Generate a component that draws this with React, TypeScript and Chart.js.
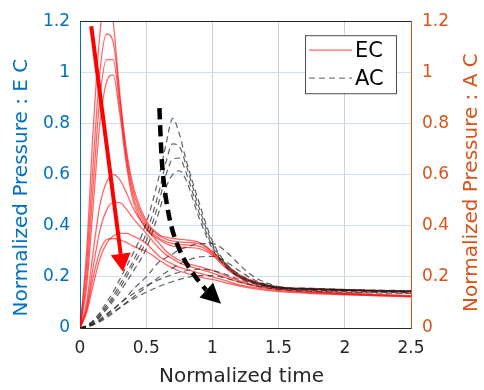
import React, { useEffect, useRef } from 'react';
import { Chart, registerables } from 'chart.js';

Chart.register(...registerables);

// ---- data ----
const T = [0, 0.05, 0.1, 0.15, 0.2, 0.25, 0.3, 0.35, 0.4, 0.5, 0.6, 0.65, 0.7, 0.75, 0.8, 0.9, 1.0, 1.1, 1.2, 1.3, 1.4, 1.5, 1.75, 2.0, 2.25, 2.5];

const EC1 = [0, 0.3, 0.78, 1.15, 1.32, 1.2, 0.92, 0.7, 0.56, 0.42, 0.365, 0.355, 0.35, 0.347, 0.345, 0.335, 0.3, 0.25, 0.21, 0.185, 0.17, 0.16, 0.155, 0.15, 0.146, 0.143];
const EC2 = [0, 0.25, 0.65, 1.0, 1.15, 1.12, 0.9, 0.68, 0.54, 0.41, 0.36, 0.348, 0.34, 0.337, 0.335, 0.33, 0.295, 0.245, 0.205, 0.182, 0.168, 0.158, 0.153, 0.148, 0.145, 0.142];
const EC3 = [0, 0.2, 0.56, 0.9, 1.05, 1.05, 0.87, 0.66, 0.52, 0.4, 0.35, 0.338, 0.33, 0.327, 0.325, 0.32, 0.29, 0.24, 0.2, 0.18, 0.166, 0.157, 0.152, 0.147, 0.144, 0.141];
const EC4 = [0, 0.16, 0.48, 0.8, 0.96, 0.99, 0.84, 0.64, 0.5, 0.39, 0.345, 0.33, 0.32, 0.317, 0.315, 0.31, 0.285, 0.235, 0.198, 0.178, 0.165, 0.156, 0.15, 0.146, 0.143, 0.14];
const EC5 = [0, 0.1, 0.3, 0.48, 0.57, 0.6, 0.58, 0.53, 0.47, 0.39, 0.33, 0.3, 0.28, 0.265, 0.255, 0.24, 0.225, 0.205, 0.185, 0.17, 0.16, 0.153, 0.143, 0.136, 0.131, 0.127];
const EC6 = [0, 0.08, 0.24, 0.38, 0.46, 0.49, 0.49, 0.465, 0.43, 0.37, 0.31, 0.287, 0.27, 0.255, 0.245, 0.23, 0.215, 0.197, 0.18, 0.167, 0.157, 0.15, 0.14, 0.134, 0.129, 0.125];
const EC7 = [0, 0.06, 0.17, 0.27, 0.33, 0.36, 0.37, 0.37, 0.36, 0.33, 0.28, 0.263, 0.25, 0.238, 0.23, 0.215, 0.2, 0.185, 0.17, 0.16, 0.152, 0.146, 0.138, 0.132, 0.127, 0.123];
const EC8 = [0, 0.07, 0.2, 0.3, 0.345, 0.35, 0.345, 0.335, 0.32, 0.3, 0.265, 0.248, 0.235, 0.223, 0.215, 0.2, 0.19, 0.177, 0.165, 0.155, 0.148, 0.142, 0.135, 0.13, 0.126, 0.122];

const AC1 = [0, 0.01, 0.03, 0.06, 0.1, 0.14, 0.19, 0.24, 0.29, 0.41, 0.6, 0.72, 0.82, 0.76, 0.66, 0.49, 0.34, 0.255, 0.21, 0.185, 0.17, 0.16, 0.155, 0.151, 0.148, 0.146];
const AC2 = [0, 0.009, 0.027, 0.053, 0.088, 0.125, 0.17, 0.215, 0.26, 0.37, 0.54, 0.65, 0.72, 0.71, 0.64, 0.47, 0.33, 0.25, 0.205, 0.182, 0.168, 0.158, 0.153, 0.15, 0.147, 0.145];
const AC3 = [0, 0.008, 0.024, 0.048, 0.08, 0.115, 0.155, 0.2, 0.245, 0.34, 0.5, 0.6, 0.66, 0.665, 0.61, 0.45, 0.32, 0.245, 0.202, 0.18, 0.166, 0.157, 0.152, 0.149, 0.146, 0.144];
const AC4 = [0, 0.007, 0.021, 0.043, 0.072, 0.105, 0.14, 0.18, 0.22, 0.31, 0.46, 0.55, 0.6, 0.615, 0.58, 0.43, 0.31, 0.24, 0.2, 0.178, 0.165, 0.156, 0.151, 0.148, 0.145, 0.143];
const AC5 = [0, 0.005, 0.015, 0.03, 0.05, 0.07, 0.095, 0.12, 0.15, 0.2, 0.26, 0.275, 0.29, 0.305, 0.315, 0.33, 0.33, 0.3, 0.25, 0.205, 0.178, 0.162, 0.152, 0.148, 0.145, 0.143];
const AC6 = [0, 0.004, 0.012, 0.025, 0.04, 0.058, 0.078, 0.1, 0.12, 0.16, 0.2, 0.218, 0.235, 0.25, 0.262, 0.278, 0.28, 0.26, 0.225, 0.192, 0.172, 0.16, 0.15, 0.146, 0.143, 0.141];
const AC7 = [0, 0.005, 0.018, 0.035, 0.055, 0.075, 0.095, 0.115, 0.133, 0.165, 0.19, 0.2, 0.21, 0.218, 0.224, 0.23, 0.225, 0.21, 0.19, 0.175, 0.163, 0.155, 0.147, 0.142, 0.139, 0.137];
const AC8 = [0, 0.004, 0.014, 0.028, 0.045, 0.062, 0.08, 0.097, 0.113, 0.14, 0.163, 0.173, 0.182, 0.19, 0.197, 0.205, 0.205, 0.195, 0.18, 0.168, 0.158, 0.151, 0.144, 0.14, 0.137, 0.135];

const EC_SERIES = [EC1, EC2, EC3, EC4, EC5, EC6, EC7, EC8];
const AC_SERIES = [AC1, AC2, AC3, AC4, AC5, AC6, AC7, AC8];

const X_TICK_VALUES = [0, 0.5, 1, 1.5, 2, 2.5];
const X_TICK_LABELS = ['0', '0.5', '1', '1.5', '2', '2.5'];
const Y_TICK_VALUES = [0, 0.2, 0.4, 0.6, 0.8, 1, 1.2];
const Y_TICK_LABELS = ['0', '0.2', '0.4', '0.6', '0.8', '1', '1.2'];

const LEGEND_LABELS = ['EC', 'AC'];
const X_TITLE = 'Normalized time';
const Y_LEFT_TITLE = 'Normalized Pressure : E C';
const Y_RIGHT_TITLE = 'Normalized Pressure : A C';

// annotation arrows (data units)
const RED_ARROW_T = [0.085, 0.325];
const RED_ARROW_V = [1.18, 0.22];
const BLACK_ARROW_T = [0.6, 0.61, 0.625, 0.655, 0.7, 0.78, 0.87, 0.95, 1.065];
const BLACK_ARROW_V = [0.86, 0.72, 0.6, 0.48, 0.37, 0.27, 0.2, 0.15, 0.095];

// ---- style ----
const BLUE = '#0072BD';
const ORANGE = '#D95319';
const DARK = '#262626';
const FONT = "'DejaVu Sans', Arial, sans-serif";
const EC_COLOR = 'rgba(255,0,0,0.6)';
const AC_COLOR = 'rgba(30,30,30,0.7)';

function drawArrow(ctx: CanvasRenderingContext2D, pts: number[][], color: string, width: number, dash: number[], headLen: number, headHalf: number) {
  const n = pts.length;
  const tip = pts[n - 1];
  const prev = pts[n - 2];
  let dx = tip[0] - prev[0];
  let dy = tip[1] - prev[1];
  const len = Math.hypot(dx, dy) || 1;
  dx /= len; dy /= len;
  const base = [tip[0] - dx * headLen, tip[1] - dy * headLen];
  const path = pts.slice(0, n - 1).concat([base]);
  ctx.save();
  ctx.strokeStyle = color;
  ctx.fillStyle = color;
  ctx.lineWidth = width;
  ctx.setLineDash(dash);
  ctx.lineCap = 'butt';
  ctx.beginPath();
  ctx.moveTo(path[0][0], path[0][1]);
  if (path.length === 2) {
    ctx.lineTo(path[1][0], path[1][1]);
  } else {
    for (let i = 1; i < path.length - 1; i++) {
      const mx = (path[i][0] + path[i + 1][0]) / 2;
      const my = (path[i][1] + path[i + 1][1]) / 2;
      ctx.quadraticCurveTo(path[i][0], path[i][1], mx, my);
    }
    ctx.lineTo(path[path.length - 1][0], path[path.length - 1][1]);
  }
  ctx.stroke();
  ctx.setLineDash([]);
  ctx.beginPath();
  ctx.moveTo(tip[0], tip[1]);
  ctx.lineTo(base[0] - dy * headHalf, base[1] + dx * headHalf);
  ctx.lineTo(base[0] + dy * headHalf, base[1] - dx * headHalf);
  ctx.closePath();
  ctx.fill();
  ctx.restore();
}

const overlayPlugin = {
  id: 'overlay',
  afterDatasetsDraw(chart: any) {
    const { ctx, chartArea: ca, scales } = chart;
    const xs = scales.x;
    const ys = scales.y;
    ctx.save();
    // top border
    ctx.strokeStyle = DARK;
    ctx.lineWidth = 1;
    ctx.beginPath();
    ctx.moveTo(ca.left, Math.round(ca.top) + 0.5);
    ctx.lineTo(ca.right, Math.round(ca.top) + 0.5);
    ctx.stroke();

    // arrows
    const redPts = RED_ARROW_T.map((t, i) => [xs.getPixelForValue(t), ys.getPixelForValue(RED_ARROW_V[i])]);
    drawArrow(ctx, redPts, '#FF0000', 4, [], 18, 10);
    const blackPts = BLACK_ARROW_T.map((t, i) => [xs.getPixelForValue(t), ys.getPixelForValue(BLACK_ARROW_V[i])]);
    drawArrow(ctx, blackPts, '#000000', 4.5, [11, 6], 20, 10);

    // legend
    const bx = ca.right - 106;
    const by = ca.top + 14;
    const bw = 91;
    const bh = 58;
    ctx.fillStyle = '#ffffff';
    ctx.fillRect(bx, by, bw, bh);
    ctx.strokeStyle = '#4d4d4d';
    ctx.lineWidth = 1;
    ctx.strokeRect(bx + 0.5, by + 0.5, bw, bh);
    const rows = [by + 15, by + 43];
    ctx.lineWidth = 1.3;
    ctx.strokeStyle = EC_COLOR;
    ctx.beginPath();
    ctx.moveTo(bx + 4, rows[0]);
    ctx.lineTo(bx + 47, rows[0]);
    ctx.stroke();
    ctx.strokeStyle = 'rgba(80,80,80,0.75)';
    ctx.setLineDash([6, 4]);
    ctx.beginPath();
    ctx.moveTo(bx + 4, rows[1]);
    ctx.lineTo(bx + 47, rows[1]);
    ctx.stroke();
    ctx.setLineDash([]);
    ctx.fillStyle = '#000000';
    ctx.font = `21px ${FONT}`;
    ctx.textAlign = 'left';
    ctx.textBaseline = 'middle';
    ctx.fillText(LEGEND_LABELS[0], bx + 50, rows[0] + 1);
    ctx.fillText(LEGEND_LABELS[1], bx + 50, rows[1] + 1);
    ctx.restore();
  },
  afterDraw(chart: any) {
    const { ctx, chartArea: ca } = chart;
    ctx.save();
    ctx.font = `20px ${FONT}`;
    ctx.textAlign = 'center';
    ctx.textBaseline = 'middle';
    // x title
    ctx.fillStyle = DARK;
    ctx.fillText(X_TITLE, (ca.left + ca.right) / 2 - 4, 377);
    // left title
    ctx.save();
    ctx.translate(22, (ca.top + ca.bottom) / 2 + 13);
    ctx.rotate(-Math.PI / 2);
    ctx.fillStyle = BLUE;
    ctx.fillText(Y_LEFT_TITLE, 0, 0);
    ctx.restore();
    // right title
    ctx.save();
    ctx.translate(472, (ca.top + ca.bottom) / 2 + 8);
    ctx.rotate(-Math.PI / 2);
    ctx.fillStyle = ORANGE;
    ctx.fillText(Y_RIGHT_TITLE, 0, 0);
    ctx.restore();
    ctx.restore();
  },
};

export default function App() {
  const canvasRef = useRef<HTMLCanvasElement | null>(null);

  useEffect(() => {
    const canvas = canvasRef.current;
    if (!canvas) return;
    const toPts = (arr: number[]) => arr.map((v, i) => ({ x: T[i], y: v }));
    const datasets: any[] = [];
    AC_SERIES.forEach((s, i) => {
      datasets.push({
        label: i === 0 ? LEGEND_LABELS[1] : '',
        data: toPts(s),
        yAxisID: 'y2',
        borderColor: AC_COLOR,
        borderWidth: 1.2,
        borderDash: [6, 4],
        pointRadius: 0,
        fill: false,
        cubicInterpolationMode: 'monotone',
      });
    });
    EC_SERIES.forEach((s, i) => {
      datasets.push({
        label: i === 0 ? LEGEND_LABELS[0] : '',
        data: toPts(s),
        yAxisID: 'y',
        borderColor: EC_COLOR,
        borderWidth: 1.3,
        pointRadius: 0,
        fill: false,
        cubicInterpolationMode: 'monotone',
      });
    });

    const tickFont = { family: FONT, size: 17 };
    const chart = new Chart(canvas, {
      type: 'line',
      data: { datasets },
      plugins: [overlayPlugin],
      options: {
        animation: false,
        responsive: false,
        devicePixelRatio: 1,
        layout: { padding: { top: 16, left: 0, right: 0, bottom: 0 } },
        plugins: { legend: { display: false }, tooltip: { enabled: false } },
        scales: {
          x: {
            type: 'linear',
            min: 0,
            max: 2.5,
            afterBuildTicks: (s: any) => { s.ticks = X_TICK_VALUES.map((v) => ({ value: v })); },
            afterFit: (s: any) => { s.height = 62; },
            ticks: {
              callback: (_v: any, i: number) => X_TICK_LABELS[i],
              color: DARK,
              font: tickFont,
              padding: 10,
              maxRotation: 0,
              autoSkip: false,
            },
            grid: { color: '#d2d2d2', drawTicks: false, lineWidth: 1 },
            border: { color: DARK, width: 1 },
          },
          y: {
            type: 'linear',
            position: 'left',
            min: 0,
            max: 1.2,
            afterBuildTicks: (s: any) => { s.ticks = Y_TICK_VALUES.map((v) => ({ value: v })); },
            afterFit: (s: any) => { s.width = 80; },
            ticks: {
              callback: (_v: any, i: number) => Y_TICK_LABELS[i],
              color: BLUE,
              font: tickFont,
              padding: 10,
              autoSkip: false,
            },
            grid: { color: '#cfe0ef', drawTicks: false, lineWidth: 1 },
            border: { color: BLUE, width: 1 },
          },
          y2: {
            type: 'linear',
            position: 'right',
            min: 0,
            max: 1.2,
            afterBuildTicks: (s: any) => { s.ticks = Y_TICK_VALUES.map((v) => ({ value: v })); },
            afterFit: (s: any) => { s.width = 73; },
            ticks: {
              callback: (_v: any, i: number) => Y_TICK_LABELS[i],
              color: ORANGE,
              font: tickFont,
              padding: 11,
              autoSkip: false,
            },
            grid: { drawOnChartArea: false, drawTicks: false },
            border: { color: ORANGE, width: 1 },
          },
        },
      } as any,
    });
    return () => chart.destroy();
  }, []);

  return (
    <div style={{ position: 'absolute', left: 0, top: 0, width: 484, height: 390, background: '#ffffff' }}>
      <canvas ref={canvasRef} width={484} height={390} style={{ display: 'block', width: 484, height: 390 }} />
    </div>
  );
}
